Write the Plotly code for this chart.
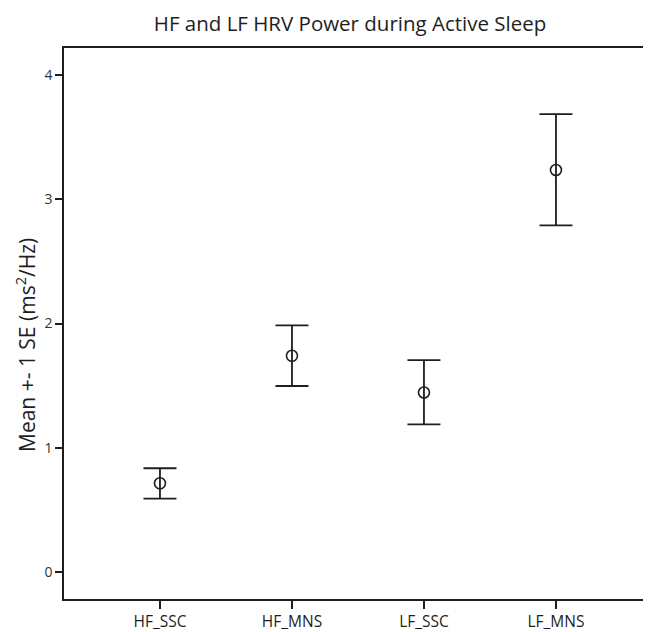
import plotly.graph_objects as go

categories = ["HF_SSC", "HF_MNS", "LF_SSC", "LF_MNS"]
means = [0.714, 1.74, 1.445, 3.235]
upper = [0.835, 1.985, 1.705, 3.685]
lower = [0.590, 1.497, 1.188, 2.79]

err_plus = [u - m for u, m in zip(upper, means)]
err_minus = [m - l for m, l in zip(means, lower)]

ink = "#1e1e1e"
font_family = "Open Sans, Lato, DejaVu Sans, sans-serif"

# The page body has an 8px default margin, so the figure is sized to fit the window.
fig = go.Figure()
fig.add_trace(go.Scatter(
    x=list(range(len(categories))),
    y=means,
    mode="markers",
    marker=dict(symbol="circle-open", size=11, color=ink, line=dict(width=1.6, color=ink)),
    error_y=dict(type="data", symmetric=False, array=err_plus, arrayminus=err_minus,
                 color=ink, thickness=1.8, width=16.5),
    showlegend=False,
    hoverinfo="skip",
))

fig.update_layout(
    width=643, height=624,
    margin=dict(l=56, r=0, t=40, b=33, autoexpand=False),
    paper_bgcolor="white", plot_bgcolor="white",
    font=dict(family=font_family, color=ink),
    title=dict(text="HF and LF HRV Power during Active Sleep", x=0.532, xanchor="center",
               y=0.974, yanchor="middle", font=dict(size=20.5, color=ink)),
    xaxis=dict(
        range=[-0.727, 3.72], automargin=False,
        tickmode="array", tickvals=list(range(len(categories))), ticktext=categories,
        showgrid=False, zeroline=False,
        showline=True, linecolor=ink, linewidth=1.5, mirror=True,
        ticks="outside", ticklen=8, tickwidth=1.5, tickcolor=ink,
        tickfont=dict(size=15.5, color=ink),
    ),
    yaxis=dict(
        range=[-0.217, 4.217], automargin=False,
        tickvals=[0, 1, 2, 3, 4],
        showgrid=False, zeroline=False,
        showline=True, linecolor=ink, linewidth=1.5,
        ticks="outside", ticklen=7, tickwidth=1.5, tickcolor=ink,
        tickfont=dict(size=14, color="#333333"),
    ),
    annotations=[dict(
        text="Mean +- 1 SE (ms<sup>2</sup>/Hz)", textangle=-90,
        xref="paper", yref="paper", x=-0.0647, y=0.461,
        xanchor="center", yanchor="middle", showarrow=False,
        font=dict(size=21, color=ink),
    )],
)

fig.write_html("out.html")
